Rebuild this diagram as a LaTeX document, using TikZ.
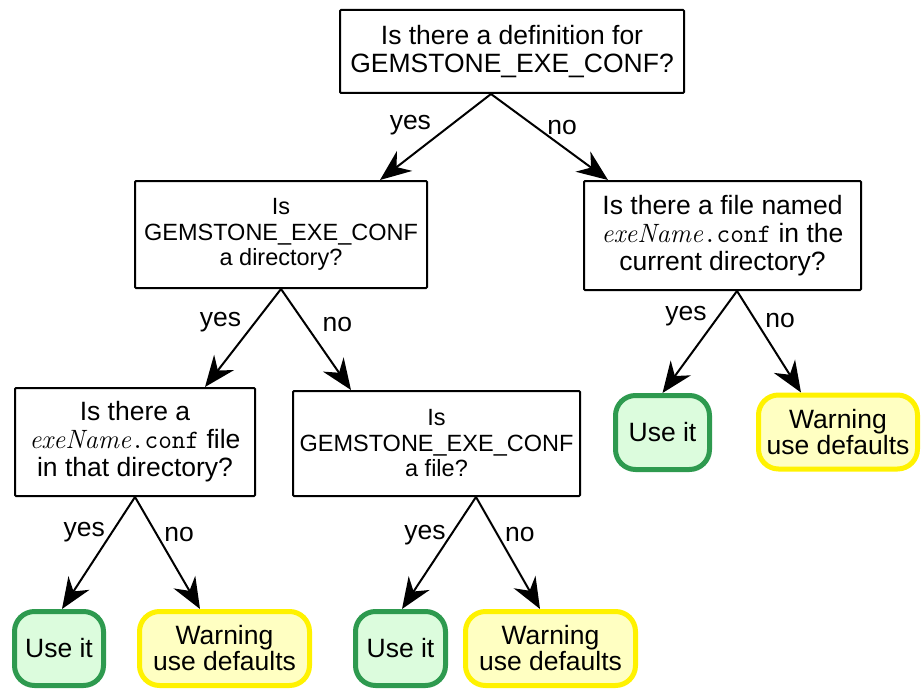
\documentclass[tikz,border=0pt]{standalone}
\usepackage{fontspec}
\usepackage{xcolor}
\usepackage{tikz}
\usetikzlibrary{arrows.meta,positioning}
\newfontfamily\arialfont{Liberation Sans}
\definecolor{LeafGreen}{HTML}{2E9A4F}
\definecolor{LeafGreenFill}{HTML}{DCFCDD}
\definecolor{LeafYellow}{HTML}{FFF200}
\definecolor{LeafYellowFill}{HTML}{FFFFC2}
\newcommand{\exefile}{{\rmfamily\itshape exeName}{\ttfamily .conf}}

\begin{document}
\begin{tikzpicture}[
    x=1pt, y=-1pt,
    font=\arialfont\fontsize{26.5}{28}\selectfont,
    query/.style={draw=black, line width=2pt, rounded corners=1pt, align=center, inner sep=0pt},
    small/.style={font=\arialfont\fontsize{23.5}{25.5}\selectfont},
    useit/.style={draw=LeafGreen, fill=LeafGreenFill, line width=5pt, rounded corners=20pt, align=center, inner sep=0pt, minimum height=74pt, font=\arialfont\fontsize{26.5}{26}\selectfont},
    warn/.style={draw=LeafYellow, fill=LeafYellowFill, line width=5pt, rounded corners=20pt, align=center, inner sep=0pt, minimum height=74pt, font=\arialfont\fontsize{26.5}{26}\selectfont},
    arr/.style={-{Stealth[length=31pt, width=25pt, inset=10pt]}, line width=2pt},
    ans/.style={inner sep=0pt, anchor=center, yshift=-3pt}
]
\useasboundingbox (0,0) rectangle (921,690);

% questions
\node[query, minimum width=344pt, minimum height=83pt] (defq) at (512,51.5) {Is there a definition for\\GEMSTONE\_EXE\_CONF?};
\node[query, small, minimum width=292pt, minimum height=107pt] (dirq) at (281,234.5) {Is\\GEMSTONE\_EXE\_CONF\\a directory?};
\node[query, minimum width=277pt, minimum height=109pt] (curq) at (722.5,235.5) {Is there a file named\\\exefile{} in the\\current directory?};
\node[query, minimum width=240pt, minimum height=108pt] (inq) at (135,442) {Is there a\\\exefile{} file\\in that directory?};
\node[query, small, minimum width=287pt, minimum height=105pt] (fileq) at (436.5,443.5) {Is\\GEMSTONE\_EXE\_CONF\\a file?};

% outcomes
\node[useit, minimum width=89pt] (useA) at (59,648.5) {Use it};
\node[warn, minimum width=170pt] (warnA) at (224.5,648.5) {Warning\\use defaults};
\node[useit, minimum width=90pt] (useB) at (400.5,648.5) {Use it};
\node[warn, minimum width=170pt] (warnB) at (550.5,648.5) {Warning\\use defaults};
\node[useit, minimum width=94pt] (useC) at (662.5,432.5) {Use it};
\node[warn, minimum width=159pt] (warnC) at (838,432) {Warning\\use defaults};

% yes / no branches
\draw[arr] ([xshift=-21pt]defq.south) -- node[ans, pos=0.33, xshift=-44pt] {yes} ([xshift=99pt]dirq.north);
\draw[arr] ([xshift=-21pt]defq.south) -- node[ans, pos=0.36, xshift=29pt] {no} ([xshift=-114.5pt]curq.north);
\draw[arr] (dirq.south) -- node[ans, pos=0.31, xshift=-37pt] {yes} ([xshift=70pt]inq.north);
\draw[arr] (dirq.south) -- node[ans, pos=0.32, xshift=34pt] {no} ([xshift=-85.5pt]fileq.north);
\draw[arr] (inq.south) -- node[ans, pos=0.29, xshift=-29.5pt] {yes} ([xshift=3pt]useA.north);
\draw[arr] (inq.south) -- node[ans, pos=0.31, xshift=24pt] {no} ([xshift=-24.5pt]warnA.north);
\draw[arr] ([xshift=39.5pt]fileq.south) -- node[ans, pos=0.31, xshift=-28pt] {yes} ([xshift=1.5pt]useB.north);
\draw[arr] ([xshift=39.5pt]fileq.south) -- node[ans, pos=0.31, xshift=24pt] {no} ([xshift=-10.5pt]warnB.north);
\draw[arr] ([xshift=14.5pt]curq.south) -- node[ans, pos=0.22, xshift=-34.5pt] {yes} (useC.north);
\draw[arr] ([xshift=14.5pt]curq.south) -- node[ans, pos=0.26, xshift=26.5pt] {no} ([xshift=-37pt]warnC.north);
\end{tikzpicture}
\end{document}
